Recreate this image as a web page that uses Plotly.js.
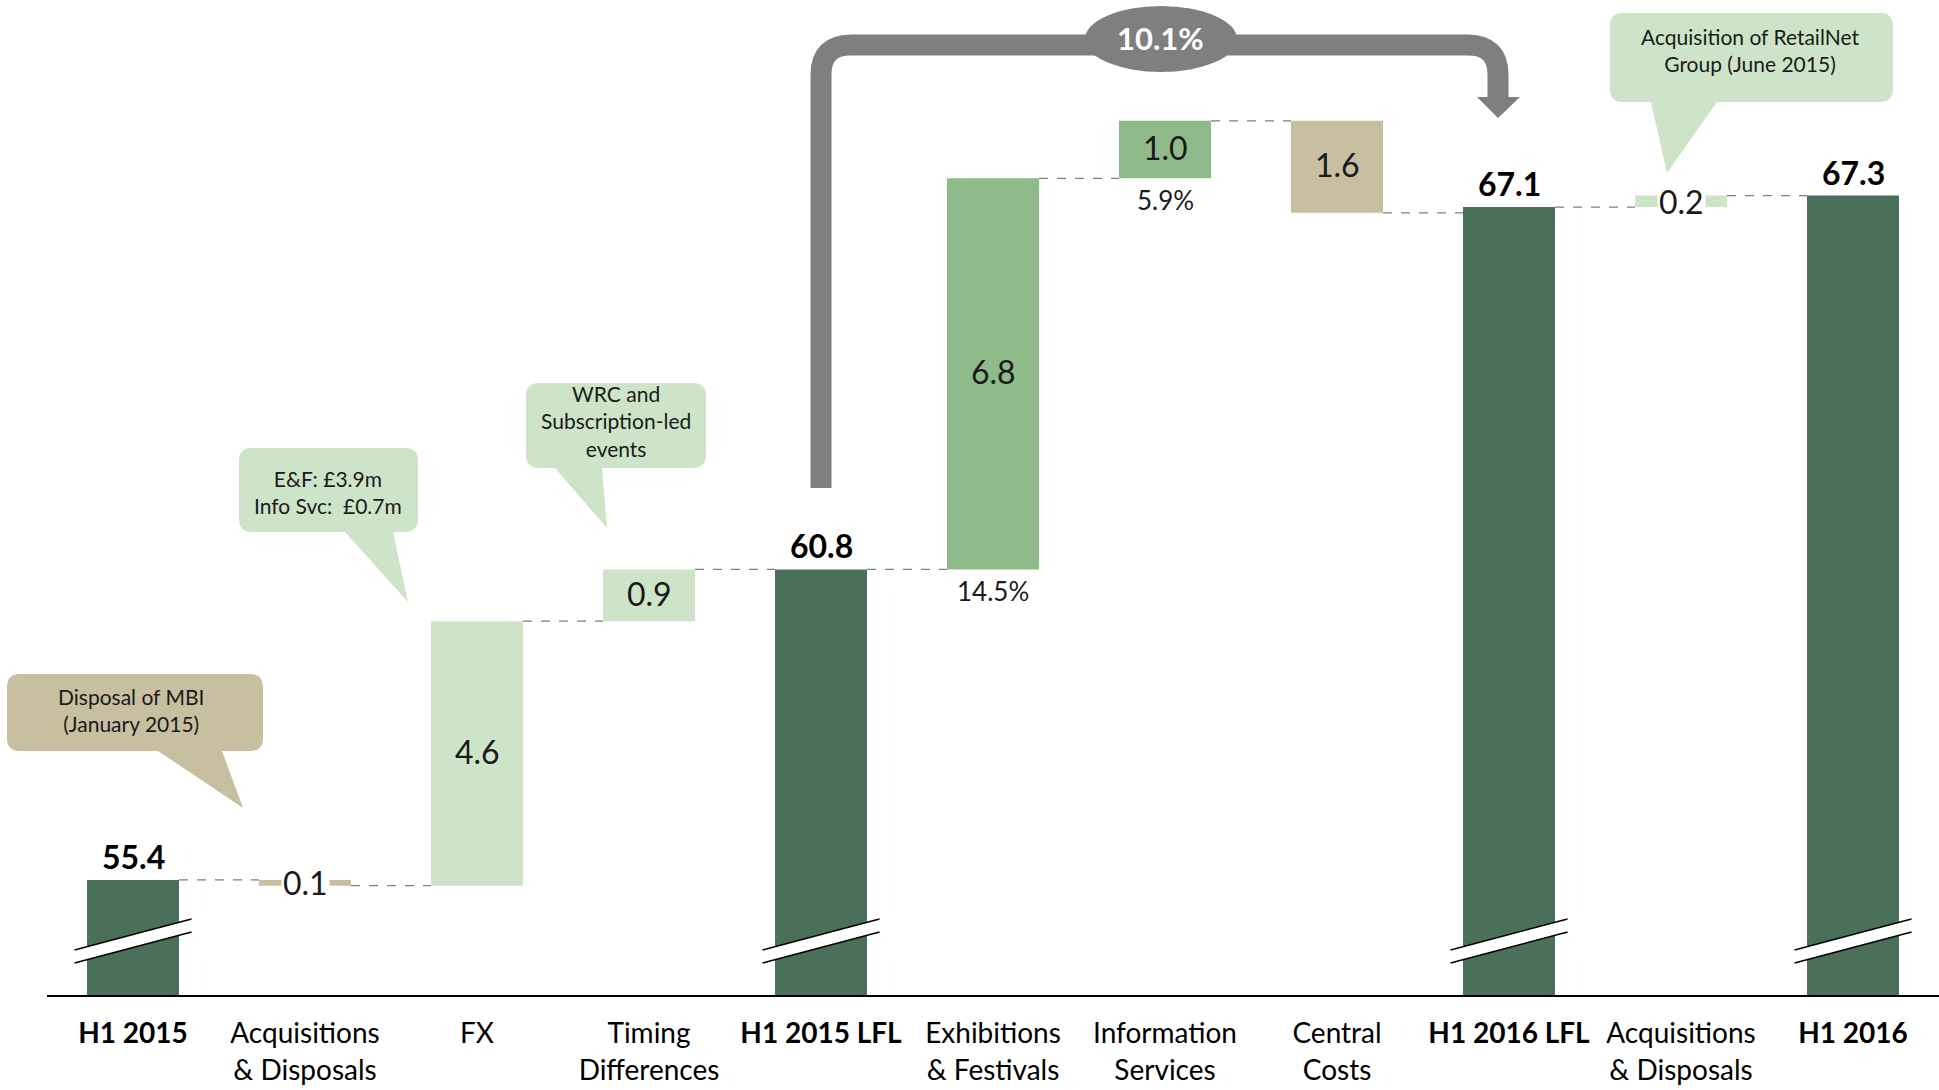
<!DOCTYPE html>
<html><head><meta charset="utf-8">
<script src="https://cdn.plot.ly/plotly-3.0.1.min.js"></script>
<style>html,body{margin:0;padding:0;background:#fff;} #chart{width:1939px;height:1090px;}</style>
</head><body><div id="chart"></div>
<script>
// ---------- DATA ----------
const categories = ['H1 2015','Acquisitions<br>& Disposals','FX','Timing<br>Differences','H1 2015 LFL','Exhibitions<br>& Festivals','Information<br>Services','Central<br>Costs','H1 2016 LFL','Acquisitions<br>& Disposals','H1 2016'];
const values = [55.4, -0.1, 4.6, 0.9, 60.8, 6.8, 1.0, -1.6, 67.1, 0.2, 67.3];
const measures = ['total','relative','relative','relative','total','relative','relative','relative','total','relative','total'];
const growthLabels = ['', '', '', '', '', '14.5%', '5.9%', '', '', '', ''];
const lflGrowthLabel = '10.1%';
const calloutTexts = [
  'Disposal of MBI<br>(January 2015)',
  'E&F: £3.9m<br>Info Svc:\u00a0 £0.7m',
  'WRC and<br>Subscription-led<br>events',
  'Acquisition of RetailNet<br>Group (June 2015)'
];

// ---------- STYLE ----------
const DARK = '#4A705A', LIGHT = '#CDE4C8', MID = '#8FBA89', TAN = '#C7BFA0', GREY = '#7F7F7F';
const barColors = [DARK, TAN, LIGHT, LIGHT, DARK, MID, MID, TAN, DARK, LIGHT, DARK];
const FONT = 'Lato, "Open Sans", sans-serif';
const BAR_W = 0.535;
const PLOT = {l:47, r:1939, t:0, b:995};
const Y_RANGE = [53.4, 70.7];

// ---------- derived from data ----------
const idx = categories.map((_, i) => i);
const bases = [], heights = [], ends = [];
let level = 0;
values.forEach((v, i) => {
  if (measures[i] === 'total') {
    bases.push(0); heights.push(v); level = v;
  } else {
    const start = level, end = level + v;
    bases.push(Math.min(start, end)); heights.push(Math.abs(v)); level = end;
  }
  ends.push(level);
});

const ticktext = categories.map((c, i) => measures[i] === 'total' ? '<b>' + c + '</b>' : c);

const X = px => (px - PLOT.l) / (PLOT.r - PLOT.l);
const Y = py => (PLOT.b - py) / (PLOT.b - PLOT.t);
const P = (x, y) => X(x) + ',' + Y(y);

const annotations = [];
const shapes = [];

values.forEach((v, i) => {
  const txt = Math.abs(v).toFixed(1);
  if (measures[i] === 'total') {
    annotations.push({x: i, y: v, xref: 'x', yref: 'y', text: '<b>' + txt + '</b>', showarrow: false,
      yanchor: 'bottom', yshift: 2, font: {family: FONT, size: 32, color: '#000'}});
  } else if (Math.abs(v) >= 0.5) {
    annotations.push({x: i, y: bases[i] + heights[i] / 2, xref: 'x', yref: 'y', text: txt, showarrow: false,
      yanchor: 'middle', yshift: 2, font: {family: FONT, size: 32, color: '#1a1a1a'}});
  } else {
    annotations.push({x: i, y: bases[i] + heights[i] / 2, xref: 'x', yref: 'y', text: txt, showarrow: false,
      yanchor: 'middle', bgcolor: '#ffffff', borderpad: 1, font: {family: FONT, size: 32, color: '#1a1a1a'}});
  }
  if (growthLabels[i]) {
    annotations.push({x: i, y: bases[i], xref: 'x', yref: 'y', text: growthLabels[i], showarrow: false,
      yanchor: 'top', yshift: -4, font: {family: FONT, size: 26, color: '#1a1a1a'}});
  }
});

// connectors
for (let i = 0; i < values.length - 1; i++) {
  shapes.push({type: 'line', xref: 'x', yref: 'y', x0: i + BAR_W / 2, x1: i + 1 - BAR_W / 2, y0: ends[i], y1: ends[i],
    line: {color: GREY, width: 1.2, dash: 'dash'}});
}

// axis-break marks on total bars
idx.filter(i => measures[i] === 'total').forEach(i => {
  const a = i - 0.34, b = i + 0.34;
  shapes.push({type: 'path', xref: 'x', yref: 'paper',
    path: `M ${a},${Y(950)} L ${b},${Y(919)} L ${b},${Y(932)} L ${a},${Y(963)} Z`,
    fillcolor: '#ffffff', line: {width: 0}});
  shapes.push({type: 'line', xref: 'x', yref: 'paper', x0: a, y0: Y(950), x1: b, y1: Y(919), line: {color: '#000', width: 1.5}});
  shapes.push({type: 'line', xref: 'x', yref: 'paper', x0: a, y0: Y(963), x1: b, y1: Y(932), line: {color: '#000', width: 1.5}});
});

// LFL growth arrow
shapes.push({type: 'path', xref: 'paper', yref: 'paper',
  path: `M ${P(821,488)} L ${P(821,75)} Q ${P(821,45)} ${P(851,45)} L ${P(1468,45)} Q ${P(1498,45)} ${P(1498,75)} L ${P(1498,99)}`,
  line: {color: GREY, width: 21}});
shapes.push({type: 'path', xref: 'paper', yref: 'paper',
  path: `M ${P(1477,97)} L ${P(1520,97)} L ${P(1498,118)} Z`, fillcolor: GREY, line: {width: 0}});
shapes.push({type: 'circle', xref: 'paper', yref: 'paper', x0: X(1085), x1: X(1237), y0: Y(72), y1: Y(6),
  fillcolor: GREY, line: {width: 0}});
annotations.push({xref: 'paper', yref: 'paper', x: X(1160), y: Y(38), text: '<b>' + lflGrowthLabel + '</b>', showarrow: false,
  xanchor: 'center', yanchor: 'middle', font: {family: FONT, size: 31, color: '#ffffff'}});

// callouts
function bubble(x0, y0, x1, y1, r, t0, t1, tx, ty) {
  return `M ${P(x0+r,y0)} L ${P(x1-r,y0)} Q ${P(x1,y0)} ${P(x1,y0+r)} L ${P(x1,y1-r)} Q ${P(x1,y1)} ${P(x1-r,y1)} ` +
         `L ${P(t1,y1)} L ${P(tx,ty)} L ${P(t0,y1)} L ${P(x0+r,y1)} Q ${P(x0,y1)} ${P(x0,y1-r)} L ${P(x0,y0+r)} Q ${P(x0,y0)} ${P(x0+r,y0)} Z`;
}
const calloutGeom = [
  {box: [7,674,263,751], tail: [158,222,243,808], color: TAN, tc: [131,710]},
  {box: [239,448,418,532], tail: [345,393,408,602], color: LIGHT, tc: [328,492]},
  {box: [526,383,706,468], tail: [555,602,607,528], color: LIGHT, tc: [616,421]},
  {box: [1610,13,1893,102], tail: [1651,1717,1667,173], color: LIGHT, tc: [1750,50]}
];
calloutGeom.forEach((g, k) => {
  shapes.push({type: 'path', xref: 'paper', yref: 'paper',
    path: bubble(g.box[0], g.box[1], g.box[2], g.box[3], 13, g.tail[0], g.tail[1], g.tail[2], g.tail[3]),
    fillcolor: g.color, line: {width: 0}});
  annotations.push({xref: 'paper', yref: 'paper', x: X(g.tc[0]), y: Y(g.tc[1]), text: calloutTexts[k], showarrow: false,
    xanchor: 'center', yanchor: 'middle', align: 'center', font: {family: FONT, size: 21, color: '#1a1a1a'}});
});

const trace = {
  type: 'bar', x: idx, y: heights, base: bases, width: BAR_W,
  marker: {color: barColors, line: {width: 0}}, hoverinfo: 'skip', showlegend: false
};

const layout = {
  width: 1939, height: 1090,
  margin: {l: PLOT.l, r: 1939 - PLOT.r, t: PLOT.t, b: 1090 - PLOT.b},
  paper_bgcolor: '#ffffff', plot_bgcolor: '#ffffff',
  font: {family: FONT},
  xaxis: {range: [-0.5, 10.5], tickvals: idx, ticktext: ticktext, showline: true, linecolor: '#000', linewidth: 1.5,
    showgrid: false, zeroline: false, ticks: '', ticklabelstandoff: 13,
    tickfont: {family: FONT, size: 28, color: '#000'}},
  yaxis: {range: Y_RANGE, visible: false, showgrid: false, zeroline: false},
  shapes: shapes, annotations: annotations
};

Plotly.newPlot('chart', [trace], layout, {displayModeBar: false, staticPlot: true});
</script></body></html>
